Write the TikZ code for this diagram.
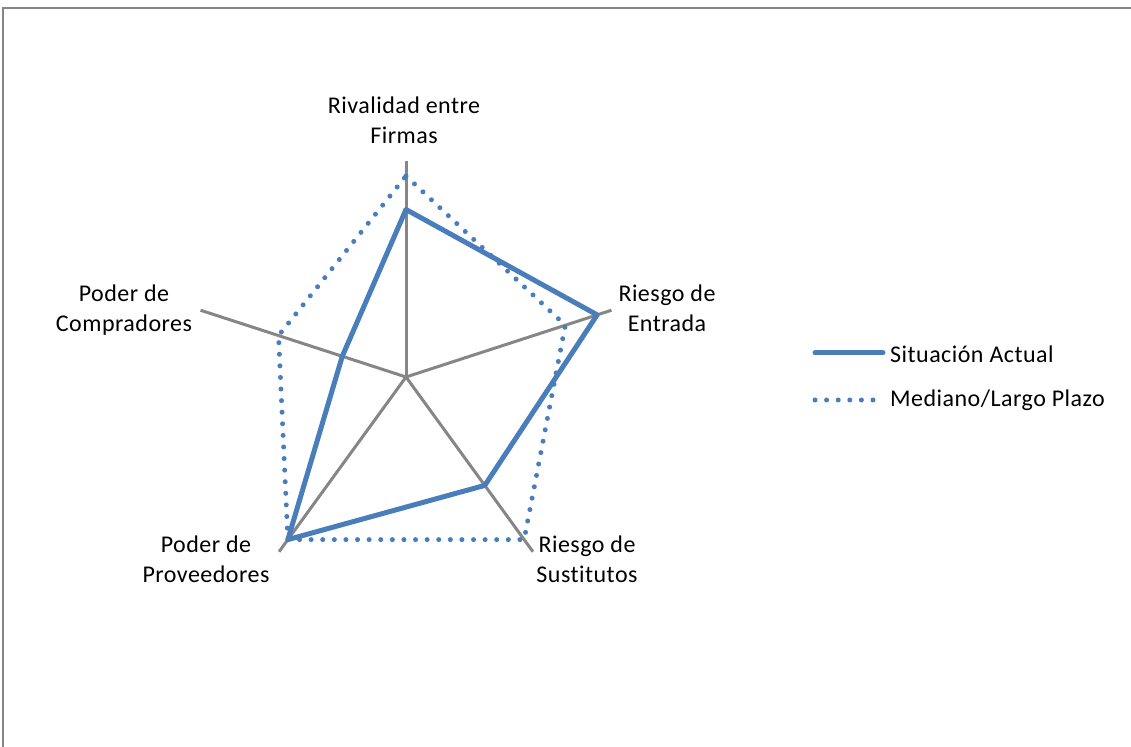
\documentclass[tikz,border=0pt]{standalone}
\usepackage{fontspec}
\setmainfont{Carlito}[LetterSpace=2,Ligatures=NoCommon]
\usetikzlibrary{calc}
\definecolor{axisgray}{HTML}{868686}
\definecolor{serieblue}{HTML}{4A7EBB}
\tikzset{
  axisline/.style={draw=axisgray, line width=3pt},
  actual/.style={draw=serieblue, line width=5pt, line join=round},
  plazo/.style={draw=serieblue, line width=5pt, line cap=round, dash pattern=on 0pt off 11.6pt},
  lbl/.style={font=\fontsize{24}{29.5}\selectfont, align=center, anchor=base, inner sep=0pt},
  leg/.style={font=\fontsize{24}{29.5}\selectfont, anchor=base west, inner sep=0pt},
  frameline/.style={draw=axisgray, line width=2pt}
}
\begin{document}
\begin{tikzpicture}[x=1pt,y=1pt]
\useasboundingbox (0,0) rectangle (1131,746);
% frame
\coordinate (fbl) at (2.5,-2);
\coordinate (ftl) at (2.5,737.5);
\coordinate (ftr) at (1133,737.5);
\draw[frameline] (fbl) -- (ftl) -- (ftr);
% center and axes
\coordinate (c) at (406,369);
\foreach \i/\a in {1/90,2/18,3/-54,4/-126,5/162}{
  \coordinate (a\i) at ($(c)+(\a:216)$);
  \draw[axisline] (c) -- (a\i);
}
% data
\def\u{67}
\coordinate (s1) at ($(c)+(90:2.5*\u)$);
\coordinate (s2) at ($(c)+(18:3*\u)$);
\coordinate (s3) at ($(c)+(-54:2*\u)$);
\coordinate (s4) at ($(c)+(-126:3*\u)$);
\coordinate (s5) at ($(c)+(162:1*\u)$);
\coordinate (m1) at ($(c)+(90:3*\u)$);
\coordinate (m2) at ($(c)+(18:2.5*\u)$);
\coordinate (m3) at ($(c)+(-54:3*\u)$);
\coordinate (m4) at ($(c)+(-126:3*\u)$);
\coordinate (m5) at ($(c)+(162:2*\u)$);
\draw[plazo] (m1) -- (m2) -- (m3) -- (m4) -- (m5) -- cycle;
\draw[actual] (s1) -- (s2) -- (s3) -- (s4) -- (s5) -- cycle;
% labels (anchor = baseline of last line)
\node[lbl] (l1) at (404,602.5) {Rivalidad entre\\Firmas};
\node[lbl] (l2) at (667,414.5) {Riesgo de\\Entrada};
\node[lbl] (l3) at (587,163.5) {Riesgo de\\Sustitutos};
\node[lbl] (l4) at (206,163.5) {Poder de\\Proveedores};
\node[lbl] (l5) at (124,414.5) {Poder de\\Compradores};
% legend
\coordinate (la1) at (815,393);
\coordinate (lb1) at (883,393);
\coordinate (la2) at (815,346);
\coordinate (lb2) at (876,346);
\draw[actual, line cap=round] (la1) -- (lb1);
\draw[plazo] (la2) -- (lb2);
\node[leg] (t1) at (890,383) {Situación Actual};
\node[leg] (t2) at (890,339) {Mediano/Largo Plazo};
\end{tikzpicture}
\end{document}
